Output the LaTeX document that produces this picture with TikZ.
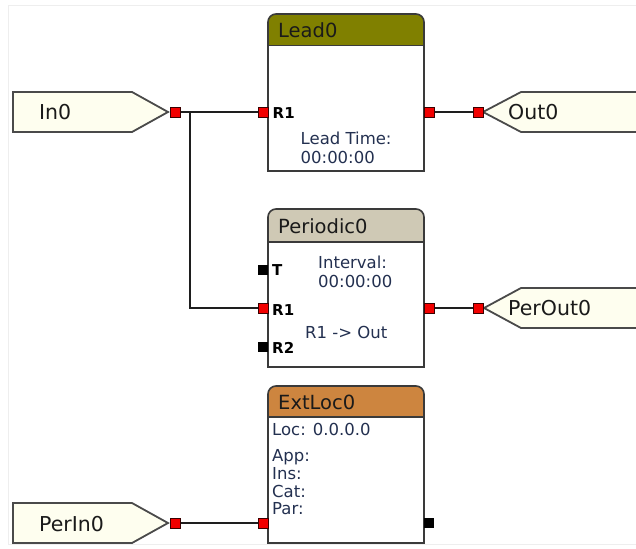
\documentclass[tikz,border=0pt]{standalone}
\usepackage{fontspec}
\setmainfont{DejaVu Sans}

\definecolor{leadhdr}{HTML}{808000}
\definecolor{perhdr}{HTML}{CFC9B5}
\definecolor{exthdr}{HTML}{CD853F}
\definecolor{termfill}{HTML}{FEFEEF}
\definecolor{termedge}{HTML}{4A4A4A}
\definecolor{boxedge}{HTML}{3A3A3A}
\definecolor{wirec}{HTML}{1E1E1E}
\definecolor{portred}{HTML}{F20000}
\definecolor{portedge}{HTML}{3A0000}
\definecolor{infoc}{HTML}{233050}
\definecolor{hdrtxt}{HTML}{1A1A1A}
\definecolor{sheetedge}{HTML}{EEEEEE}

\tikzset{
  wire/.style={draw=wirec, line width=1.6pt},
  port/.style={rectangle, minimum size=10pt, inner sep=0pt, draw=portedge, line width=0.7pt},
  redport/.style={port, fill=portred},
  blackport/.style={port, fill=black, draw=black, minimum size=9pt},
  boxline/.style={draw=boxedge, line width=1.6pt},
  terminal/.style={draw=termedge, fill=termfill, line width=1.8pt, line join=miter},
  hdrtext/.style={anchor=base west, inner sep=0pt, text=hdrtxt, font=\fontsize{19.5}{22}\selectfont},
  infotext/.style={anchor=base west, inner sep=0pt, text=infoc, font=\fontsize{16.5}{19}\selectfont},
  pintext/.style={anchor=base west, inner sep=0pt, text=black, font=\bfseries\fontsize{15}{17}\selectfont},
  iotext/.style={anchor=base west, inner sep=0pt, text=hdrtxt, font=\fontsize{20.5}{23}\selectfont},
}

\begin{document}
\begin{tikzpicture}[x=1pt, y=-1pt]
  \clip (0,0) rectangle (636,548);
  \fill[white] (0,0) rectangle (636,548);
  % sheet border
  \draw[sheetedge, line width=1pt] (8,6) rectangle (650,544);

  % ---------- terminals ----------
  \draw[terminal] (13,92) -- (132,92) -- (168,112) -- (132,132) -- (13,132) -- cycle;
  \node[iotext] (in0t) at (39,120) {In0};
  \draw[terminal] (483,112) -- (521,92) -- (650,92) -- (650,132) -- (521,132) -- cycle;
  \node[iotext] (out0t) at (508,120) {Out0};
  \draw[terminal] (484,308) -- (521,288) -- (650,288) -- (650,328) -- (521,328) -- cycle;
  \node[iotext] (perout0t) at (508,315.5) {PerOut0};
  \draw[terminal] (13,503) -- (132,503) -- (168,523) -- (132,543) -- (13,543) -- cycle;
  \node[iotext] (perin0t) at (39,531) {PerIn0};

  % ---------- Lead0 ----------
  \filldraw[boxline, fill=leadhdr, rounded corners=8pt] (268,14) rectangle (424,60);
  \filldraw[boxline, fill=white] (268,45.5) rectangle (424,171);
  \node[hdrtext] (lead0t) at (278,37.5) {Lead0};
  \node[pintext] (lead0r1t) at (272.5,119) {R1};
  \node[infotext] (lead0i1) at (300.5,145) {Lead Time:};
  \node[infotext] (lead0i2) at (300.5,164) {00:00:00};

  % ---------- Periodic0 ----------
  \filldraw[boxline, fill=perhdr, rounded corners=8pt] (268,209) rectangle (424,255);
  \filldraw[boxline, fill=white] (268,242) rectangle (424,367);
  \node[hdrtext] (per0t) at (278,233) {Periodic0};
  \node[pintext] (per0tt) at (272,275) {T};
  \node[pintext] (per0r1t) at (272,315) {R1};
  \node[pintext] (per0r2t) at (272,353) {R2};
  \node[infotext] (per0i1) at (318,268) {Interval:};
  \node[infotext] (per0i2) at (318,287) {00:00:00};
  \node[infotext] (per0i3) at (305,338) {R1 -> Out};

  % ---------- ExtLoc0 ----------
  \filldraw[boxline, fill=exthdr, rounded corners=8pt] (268,386) rectangle (424,430);
  \filldraw[boxline, fill=white] (268,417) rectangle (424,543);
  \node[hdrtext] (ext0t) at (278,409) {ExtLoc0};
  \node[infotext] (ext0loc) at (272,435) {Loc: 0.0.0.0};
  \node[infotext] (ext0app) at (272,461) {App:};
  \node[infotext] (ext0ins) at (272,479) {Ins:};
  \node[infotext] (ext0cat) at (272,497) {Cat:};
  \node[infotext] (ext0par) at (272,514) {Par:};

  % ---------- ports ----------
  \node[redport] (in0p) at (175.5,112) {};
  \node[redport] (lead0in) at (263,112) {};
  \node[redport] (lead0out) at (429.5,112) {};
  \node[redport] (out0p) at (478,112) {};

  \node[blackport] (per0tp) at (263,269.5) {};
  \node[redport] (per0r1) at (263,308) {};
  \node[blackport] (per0r2) at (263,347) {};
  \node[redport] (per0out) at (429.5,308) {};
  \node[redport] (perout0p) at (478,308) {};

  \node[redport] (perin0p) at (175.5,523) {};
  \node[redport] (ext0in) at (263,523) {};
  \node[blackport] (ext0out) at (429,523) {};

  % ---------- wires ----------
  \coordinate (split) at (190,112);
  \draw[wire] (in0p) -- (lead0in);
  \draw[wire] (split) |- (per0r1);
  \draw[wire] (lead0out) -- (out0p);
  \draw[wire] (per0out) -- (perout0p);
  \draw[wire] (perin0p) -- (ext0in);
\end{tikzpicture}
\end{document}
